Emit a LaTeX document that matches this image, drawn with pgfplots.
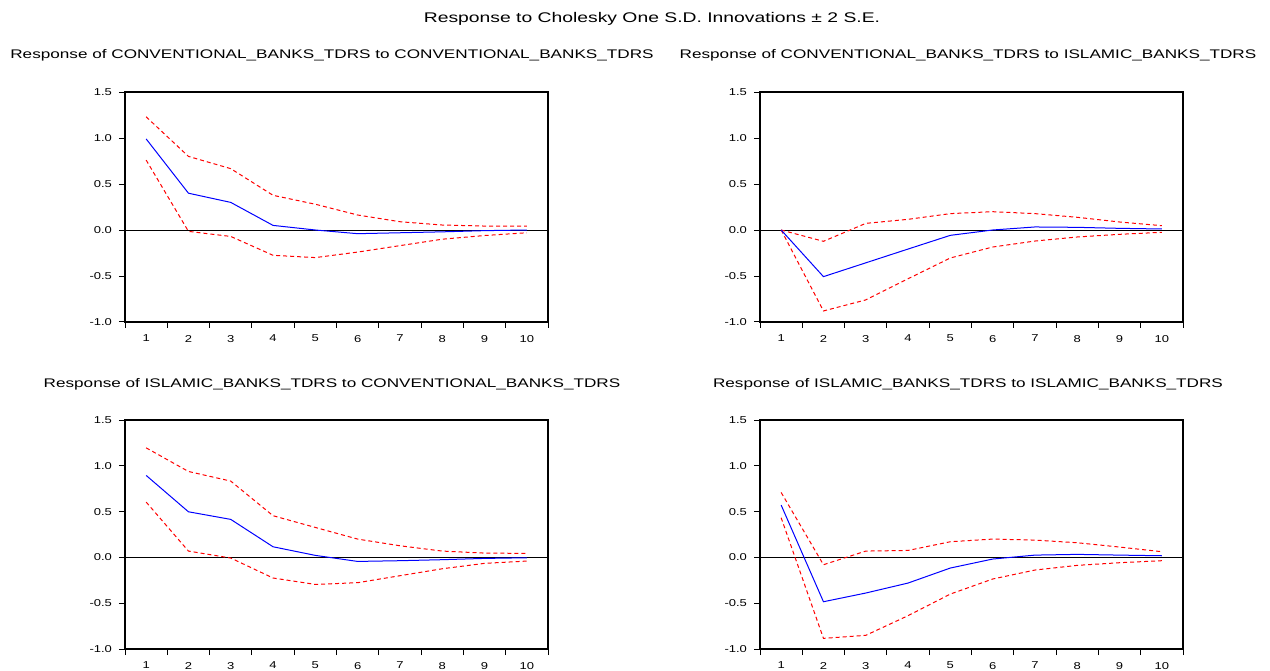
\documentclass[border=0pt]{standalone}
\usepackage{fontspec}
\setmainfont{Liberation Sans}
\usepackage{graphicx}
\usepackage{pgfplots}
\usepackage{pgfplotstable}
\pgfplotsset{compat=1.18}

% columns: horizon, response, lower band, upper band
\pgfplotstableread{
h resp lo hi
1 0.99 0.76 1.23
2 0.40 -0.015 0.80
3 0.30 -0.07 0.667
4 0.05 -0.275 0.377
5 0.00 -0.30 0.28
6 -0.04 -0.24 0.163
7 -0.03 -0.17 0.09
8 -0.02 -0.10 0.054
9 -0.007 -0.06 0.043
10 0.0 -0.03 0.043
}\tlTable

\pgfplotstableread{
h resp lo hi
1 0 0 0
2 -0.507 -0.88 -0.123
3 -0.357 -0.76 0.072
4 -0.207 -0.53 0.116
5 -0.058 -0.304 0.178
6 0.0 -0.185 0.199
7 0.033 -0.12 0.178
8 0.029 -0.076 0.138
9 0.018 -0.047 0.087
10 0.011 -0.025 0.047
}\trTable

\pgfplotstableread{
h resp lo hi
1 0.895 0.604 1.196
2 0.498 0.069 0.938
3 0.415 -0.007 0.833
4 0.116 -0.225 0.455
5 0.022 -0.295 0.327
6 -0.044 -0.276 0.200
7 -0.036 -0.200 0.127
8 -0.025 -0.124 0.069
9 -0.011 -0.065 0.047
10 -0.004 -0.040 0.044
}\blTable

\pgfplotstableread{
h resp lo hi
1 0.571 0.433 0.709
2 -0.484 -0.884 -0.080
3 -0.389 -0.851 0.069
4 -0.280 -0.636 0.076
5 -0.116 -0.400 0.171
6 -0.018 -0.236 0.200
7 0.025 -0.138 0.189
8 0.033 -0.087 0.160
9 0.025 -0.058 0.113
10 0.018 -0.036 0.062
}\brTable

\pgfplotsset{
  irf/.style={
    scale only axis, width=211.5pt, height=115pt,
    anchor=south west,
    xmin=0.5, xmax=10.5, ymin=-1, ymax=1.5,
    xtick={1,2,3,4,5,6,7,8,9,10},
    minor xtick={0.5,1.5,2.5,3.5,4.5,5.5,6.5,7.5,8.5,9.5,10.5},
    ytick={-1,-0.5,0,0.5,1,1.5},
    tick align=outside, xtick pos=left, ytick pos=left,
    major tick length=3pt, minor tick length=3pt,
    major x tick style={draw=none},
    minor x tick style={black, line width=0.5pt},
    major y tick style={black, line width=0.5pt},
    axis line style={black, line width=0.6pt},
    /pgf/number format/assume math mode=true,
    ticklabel style={font=\fontsize{5}{6}\selectfont},
    yticklabel={\scalebox{1.3}[1]{\pgfmathprintnumber[fixed,fixed zerofill,precision=1]{\tick}}},
    xticklabel={\scalebox{1.3}[1]{\pgfmathprintnumber{\tick}}},
  },
  zero/.style={black, line width=0.4pt},
  mid/.style={blue, line width=0.5pt},
  band/.style={red, line width=0.5pt, dash pattern=on 2pt off 1.5pt},
}

\newcommand\panel[2]{%
  \addplot[zero] coordinates {(0.5,0) (10.5,0)};
  \addplot[band] table[x=h,y=hi]{#1};
  \addplot[band] table[x=h,y=lo]{#1};
  \addplot[mid] table[x=h,y=resp]{#1};
}

\begin{document}
\begin{tikzpicture}
\path[use as bounding box] (0,0) rectangle (635pt,335pt);

\node[anchor=base, font=\fontsize{7}{8.4}\selectfont] at (326pt,323.8pt)
  {\scalebox{1.38}[1]{Response to Cholesky One S.D. Innovations ± 2 S.E.}};

\node[anchor=base, font=\fontsize{6.25}{7.5}\selectfont] at (166pt,305.5pt)
  {\scalebox{1.372}[1]{Response of CONVENTIONAL\_BANKS\_TDRS to CONVENTIONAL\_BANKS\_TDRS}};
\node[anchor=base, font=\fontsize{6.25}{7.5}\selectfont] at (484pt,305.5pt)
  {\scalebox{1.372}[1]{Response of CONVENTIONAL\_BANKS\_TDRS to ISLAMIC\_BANKS\_TDRS}};
\node[anchor=base, font=\fontsize{6.25}{7.5}\selectfont] at (166pt,141pt)
  {\scalebox{1.372}[1]{Response of ISLAMIC\_BANKS\_TDRS to CONVENTIONAL\_BANKS\_TDRS}};
\node[anchor=base, font=\fontsize{6.25}{7.5}\selectfont] at (484pt,141pt)
  {\scalebox{1.372}[1]{Response of ISLAMIC\_BANKS\_TDRS to ISLAMIC\_BANKS\_TDRS}};

\begin{axis}[irf, at={(62.5pt,174pt)}]
\panel{\tlTable}{}
\end{axis}

\begin{axis}[irf, at={(380pt,174pt)}]
\panel{\trTable}{}
\end{axis}

\begin{axis}[irf, height=114.5pt, at={(62.5pt,10.5pt)}]
\panel{\blTable}{}
\end{axis}

\begin{axis}[irf, height=114.5pt, at={(380pt,10.5pt)}]
\panel{\brTable}{}
\end{axis}

\end{tikzpicture}
\end{document}
